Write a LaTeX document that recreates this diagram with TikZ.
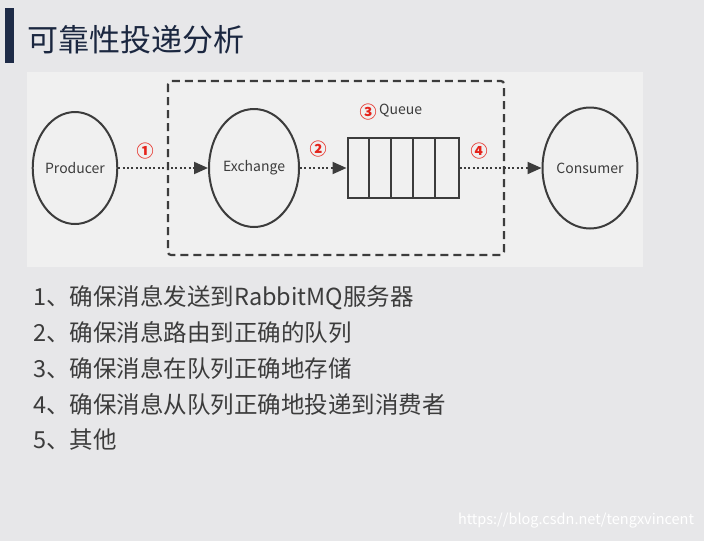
\documentclass[tikz,border=0pt]{standalone}
\usepackage{fontspec}
\setmainfont{Noto Sans CJK SC}
\usetikzlibrary{shapes.geometric,arrows.meta}
\definecolor{slidebg}{HTML}{E7E7E9}
\definecolor{panelbg}{HTML}{F0F0F0}
\definecolor{barblue}{HTML}{1E2B47}
\definecolor{linegray}{HTML}{3C3C3C}
\definecolor{stepred}{HTML}{E5231B}
\tikzset{
  actor/.style={ellipse, draw=linegray, line width=2pt, inner sep=0pt, text=linegray, font=\fontsize{14}{16}\selectfont},
  flow/.style={linegray, line width=2pt, dash pattern=on 2pt off 2.4pt, -{Triangle[length=14pt,width=12pt]}},
  steplabel/.style={text=stepred, font=\fontsize{17}{19}\selectfont\bfseries},
  listline/.style={anchor=west, text=linegray, inner sep=0pt, font=\fontsize{23.5}{26}\selectfont}
}
\begin{document}
\begin{tikzpicture}[x=1pt, y=-1pt]
    \useasboundingbox (0,0) rectangle (704,541);
    \fill[slidebg] (0,0) rectangle (704,541);
    \fill[barblue] (5,8) rectangle (14,63);
    \node[anchor=west, inner sep=0pt, text=barblue!90!black, font=\fontsize{31}{33}\selectfont] (title) at (27,40) {可靠性投递分析};
    \fill[panelbg] (27,72) rectangle (643,267);
    \draw[linegray, line width=2.2pt, dash pattern=on 8pt off 5pt, rounded corners=3pt] (168,81) rectangle (504,255);
    \node[actor, minimum width=84pt, minimum height=112pt] (producer) at (75,168) {Producer};
    \node[actor, minimum width=90pt, minimum height=118pt] (exchange) at (254,168) {Exchange};
    \node[actor, minimum width=93pt, minimum height=121pt] (consumer) at (590,168) {Consumer};
    \node[draw=linegray, line width=2pt, minimum width=111pt, minimum height=60pt, inner sep=0pt] (queue) at (403,168) {};
    \foreach \i in {1,...,4}
        \draw[linegray, line width=2pt] ([xshift=\i*22.2pt]queue.north west) -- ([xshift=\i*22.2pt]queue.south west);
    \node[steplabel] (step3) at (368,112) {③};
    \node[anchor=west, inner sep=0pt, text=linegray, font=\fontsize{14}{16}\selectfont] (queuename) at (379,111) {Queue};
    \draw[flow] (producer) -- (exchange);
    \draw[flow] (exchange) -- (queue);
    \draw[flow] (queue) -- (consumer);
    \node[steplabel] (step1) at (145,151) {①};
    \node[steplabel] (step2) at (318,149) {②};
    \node[steplabel] (step4) at (479,151) {④};
    \node[listline] (item1) at (33,298) {1、确保消息发送到RabbitMQ服务器};
    \node[listline] (item2) at (33,333) {2、确保消息路由到正确的队列};
    \node[listline] (item3) at (33,369) {3、确保消息在队列正确地存储};
    \node[listline] (item4) at (33,405) {4、确保消息从队列正确地投递到消费者};
    \node[listline] (item5) at (33,440) {5、其他};
    \node[text=white, font=\fontsize{14.5}{16}\selectfont] (source) at (576,521) {https://blog.csdn.net/tengxvincent};
\end{tikzpicture}
\end{document}
